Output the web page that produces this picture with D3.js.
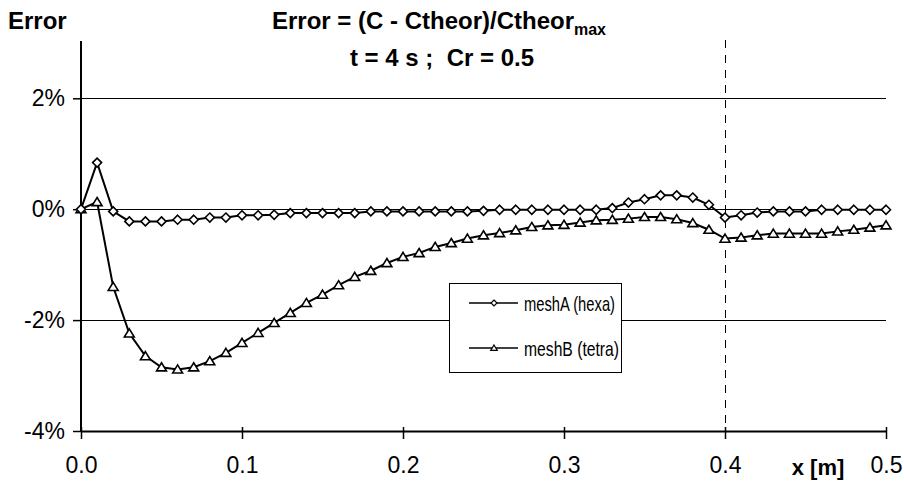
<!DOCTYPE html>
<html>
<head>
<meta charset="utf-8">
<script src="https://cdn.jsdelivr.net/npm/d3@7"></script>
<style>
  html, body { margin: 0; padding: 0; background: #fff; }
  svg { display: block; font-family: "Liberation Sans", Arial, sans-serif; }
</style>
</head>
<body>
<svg id="chart" width="904" height="482"></svg>
<script>
// ---- data ----
const xValues = [0.00,0.01,0.02,0.03,0.04,0.05,0.06,0.07,0.08,0.09,
  0.10,0.11,0.12,0.13,0.14,0.15,0.16,0.17,0.18,0.19,
  0.20,0.21,0.22,0.23,0.24,0.25,0.26,0.27,0.28,0.29,
  0.30,0.31,0.32,0.33,0.34,0.35,0.36,0.37,0.38,0.39,
  0.40,0.41,0.42,0.43,0.44,0.45,0.46,0.47,0.48,0.49,0.50];
const meshA = [0.00,0.84,-0.04,-0.22,-0.22,-0.22,-0.19,-0.19,-0.15,-0.15,
  -0.11,-0.11,-0.10,-0.07,-0.07,-0.07,-0.07,-0.07,-0.04,-0.04,
  -0.04,-0.04,-0.04,-0.04,-0.04,-0.03,-0.01,-0.01,-0.01,-0.01,
  -0.01,-0.01,-0.01,0.02,0.12,0.18,0.25,0.25,0.21,0.08,
  -0.15,-0.11,-0.06,-0.04,-0.04,-0.04,-0.01,-0.01,-0.01,-0.01,-0.01];
const meshB = [0.00,0.13,-1.40,-2.24,-2.65,-2.85,-2.89,-2.85,-2.74,-2.59,
  -2.41,-2.23,-2.05,-1.87,-1.69,-1.54,-1.37,-1.22,-1.11,-0.97,
  -0.86,-0.79,-0.68,-0.61,-0.53,-0.47,-0.43,-0.38,-0.32,-0.29,
  -0.28,-0.24,-0.20,-0.19,-0.17,-0.14,-0.14,-0.18,-0.25,-0.37,
  -0.53,-0.51,-0.47,-0.44,-0.44,-0.44,-0.44,-0.40,-0.37,-0.33,-0.29];
const seriesNames = ["meshA (hexa)", "meshB (tetra)"];
const xTicks = [0, 0.1, 0.2, 0.3, 0.4, 0.5];
const yTicks = [-4, -2, 0, 2];
const gridTicks = [-2, 0, 2];
const markerLineX = 0.4;
const titleMain = "Error = (C - Ctheor)/Ctheor";
const titleSub = "max";
const titleLine2 = "t = 4 s ;  Cr = 0.5";
const yAxisTitle = "Error";
const xAxisTitle = "x [m]";

// ---- layout ----
const svg = d3.select("#chart");
const plotL = 81, plotR = 886, plotT = 41, plotB = 431;
const x = d3.scaleLinear().domain([0, 0.5]).range([plotL, plotR]);
const y = d3.scaleLinear().domain([-4, 3]).range([plotB, plotB - 7 * 55.45]);
const TICKFONT = 23;
const TITLEFONT = 24;

// gridlines
svg.append("g").selectAll("line").data(gridTicks).join("line")
  .attr("x1", plotL).attr("x2", plotR)
  .attr("y1", d => y(d)).attr("y2", d => y(d))
  .attr("stroke", "#000").attr("stroke-width", 1).attr("shape-rendering", "crispEdges");

// dashed vertical line at x=0.4
svg.append("line")
  .attr("x1", x(markerLineX)).attr("x2", x(markerLineX))
  .attr("y1", 40).attr("y2", plotB)
  .attr("stroke", "#000").attr("stroke-width", 1)
  .attr("stroke-dasharray", "8,7").attr("shape-rendering", "crispEdges");

// y axis
const yAxis = d3.axisLeft(y).tickValues(yTicks).tickSize(8).tickPadding(8)
  .tickFormat(d => d + "%");
const gy = svg.append("g").attr("transform", `translate(${plotL},0)`).call(yAxis);
gy.select(".domain").attr("stroke-width", 2).attr("d", `M0,${plotT}V${plotB}`);
gy.selectAll(".tick line").attr("stroke-width", 1.5);
gy.selectAll(".tick text").attr("font-size", TICKFONT).attr("fill", "#000")
  .attr("font-family", '"Liberation Sans", Arial, sans-serif');

// x axis (cross ticks)
const xAxis = d3.axisBottom(x).tickValues(xTicks).tickSizeInner(8).tickSizeOuter(0)
  .tickPadding(18).tickFormat(d3.format(".1f"));
const gx = svg.append("g").attr("transform", `translate(0,${plotB})`).call(xAxis);
gx.select(".domain").attr("stroke-width", 2);
gx.selectAll(".tick line").attr("y1", -4).attr("stroke-width", 1.5);
gx.selectAll(".tick text").attr("font-size", TICKFONT).attr("fill", "#000")
  .attr("font-family", '"Liberation Sans", Arial, sans-serif');

// series lines
const line = d3.line().x((d, i) => x(xValues[i])).y(d => y(d));
svg.append("path").datum(meshB).attr("d", line)
  .attr("fill", "none").attr("stroke", "#000").attr("stroke-width", 2);
svg.append("path").datum(meshA).attr("d", line)
  .attr("fill", "none").attr("stroke", "#000").attr("stroke-width", 2);

// markers
const diamond = r => `M0,${-r}L${r},0L0,${r}L${-r},0Z`;
const triangle = r => `M0,${-r}L${r*1.1},${r*0.8}L${-r*1.1},${r*0.8}Z`;
svg.append("g").selectAll("path").data(meshB).join("path")
  .attr("transform", (d, i) => `translate(${x(xValues[i])},${y(d)})`)
  .attr("d", triangle(4.5)).attr("fill", "#fff").attr("stroke", "#000").attr("stroke-width", 1.6);
svg.append("g").selectAll("path").data(meshA).join("path")
  .attr("transform", (d, i) => `translate(${x(xValues[i])},${y(d)})`)
  .attr("d", diamond(4.5)).attr("fill", "#fff").attr("stroke", "#000").attr("stroke-width", 1.6);

// legend
const lg = svg.append("g");
lg.append("rect").attr("x", 449.5).attr("y", 283.5).attr("width", 172).attr("height", 89)
  .attr("fill", "#fff").attr("stroke", "#000").attr("stroke-width", 1);
const legendY = [303, 348];
const legendW = [91, 95];
const shapes = [diamond(3), triangle(3)];
seriesNames.forEach((name, i) => {
  lg.append("line").attr("x1", 469).attr("x2", 518).attr("y1", legendY[i]).attr("y2", legendY[i])
    .attr("stroke", "#000").attr("stroke-width", 1.5);
  lg.append("path").attr("transform", `translate(494,${legendY[i]})`).attr("d", shapes[i])
    .attr("fill", "#fff").attr("stroke", "#000").attr("stroke-width", 1.2);
  lg.append("text").attr("x", 524).attr("y", legendY[i]).attr("dy", "0.36em")
    .attr("font-size", 21).attr("textLength", legendW[i]).attr("lengthAdjust", "spacingAndGlyphs")
    .text(name);
});

// titles
svg.append("text").attr("x", 8).attr("y", 29).attr("font-size", TITLEFONT).attr("font-weight", "bold")
  .text(yAxisTitle);
const t1 = svg.append("text").attr("x", 439).attr("y", 29).attr("text-anchor", "middle")
  .attr("font-size", TITLEFONT).attr("font-weight", "bold");
t1.append("tspan").text(titleMain);
t1.append("tspan").attr("dy", 6).attr("font-size", 16).text(titleSub);
svg.append("text").attr("x", 442).attr("y", 66).attr("text-anchor", "middle")
  .attr("font-size", TITLEFONT).attr("font-weight", "bold")
  .style("white-space", "pre").text(titleLine2);
svg.append("text").attr("x", 818).attr("y", 475).attr("text-anchor", "middle")
  .attr("font-size", 22).attr("font-weight", "bold").text(xAxisTitle);
</script>
</body>
</html>
